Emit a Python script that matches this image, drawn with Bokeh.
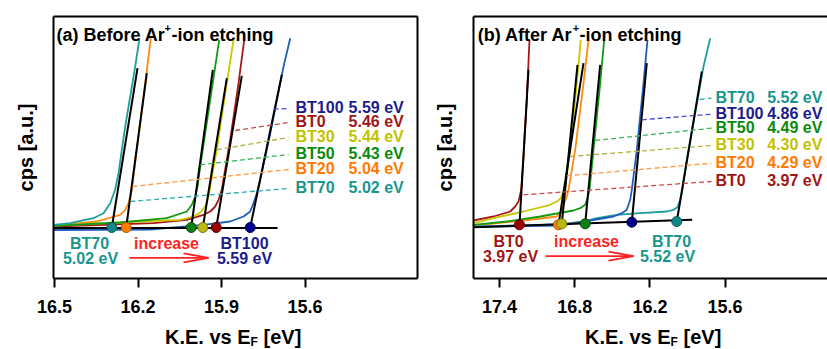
import math
from bokeh.plotting import figure
from bokeh.layouts import row, column
from bokeh.models import Range1d, FixedTicker, PrintfTickFormatter, LinearAxis, Label, Div
from bokeh.embed import file_html
from bokeh.resources import INLINE

FONT = "Liberation Sans"

# Sample order used by every per-sample list below
samples = ["BT0", "BT20", "BT30", "BT50", "BT70", "BT100"]

line_colors = ["#a81818", "#ff8a10", "#c8c800", "#139a13", "#1f9e9e", "#1f5fb8"]
dot_colors = ["#9a0000", "#ff8000", "#b8b818", "#0f7f0f", "#138888", "#00008a"]
dot_edges = ["#5a0000", "#b05000", "#7a7a00", "#064a06", "#0a5555", "#000050"]
dash_colors = ["#cc4c4c", "#ff9a40", "#b0b048", "#38b85a", "#2fa8a8", "#4a4ac4"]
text_colors = ["#a01515", "#ff7a00", "#c2c200", "#0b8a0b", "#17968e", "#1c1c8c"]

# ---------------- (a) before Ar+ etching ----------------
a_ticks = [16.5, 16.2, 15.9, 15.6]
a_wf = [5.46, 5.04, 5.44, 5.43, 5.02, 5.59]

a_bt0_ke = [16.5036, 16.1443, 16.0247, 15.9647, 15.9406, 15.9226, 15.9108, 15.8989, 15.8687, 15.8389, 15.8184]
a_bt0_cps = [52.0, 55.3, 58.7, 63.7, 67.0, 72.0, 78.7, 89.0, 139.0, 195.3, 238.7]
a_bt20_ke = [16.5036, 16.3480, 16.2640, 16.2460, 16.2341, 16.2223, 16.2162, 16.2043, 16.1741, 16.1540]
a_bt20_cps = [52.7, 57.0, 63.7, 68.7, 75.3, 88.7, 102.0, 129.0, 195.3, 240.3]
a_bt30_ke = [16.5036, 16.1551, 16.0484, 16.0006, 15.9765, 15.9586, 15.9467, 15.9406, 15.9169, 15.8810, 15.8569]
a_bt30_cps = [53.0, 57.5, 58.7, 62.0, 66.0, 72.0, 82.0, 92.0, 129.0, 195.3, 238.7]
a_bt50_ke = [16.5036, 16.2640, 16.0965, 16.0247, 16.0067, 15.9945, 15.9862, 15.9765, 15.9406, 15.9083]
a_bt50_cps = [52.7, 56.0, 60.3, 67.0, 73.7, 82.0, 92.0, 112.0, 178.7, 238.7]
a_bt70_ke = [16.5036, 16.4436, 16.3599, 16.3240, 16.2999, 16.2819, 16.2701, 16.2460, 16.2101, 16.1946]
a_bt70_cps = [53.7, 55.3, 60.3, 65.3, 75.3, 89.0, 105.3, 152.0, 212.0, 240.3]
a_bt100_ke = [16.5036, 16.1551, 15.9647, 15.8687, 15.8210, 15.7969, 15.7850, 15.7732, 15.7610,
              15.7250, 15.6772, 15.6532]
a_bt100_cps = [48.5, 49.0, 53.7, 57.0, 62.0, 67.0, 75.3, 85.3, 98.7, 145.3, 212.0, 240.3]

# linear fits of the cutoff edge: baseline crossing and upper end
a_cut_ke = [15.9190, 16.2424, 15.9672, 16.0089, 16.2941, 15.7969]
a_cut_cps = [51.0, 51.0, 51.0, 51.0, 51.0, 51.0]
a_fit_top_ke = [15.8271, 16.1684, 15.8810, 15.9313, 16.2018, 15.6834]
a_fit_top_cps = [202.7, 205.3, 200.3, 208.7, 210.3, 203.7]
a_base_ke = [16.5036, 15.6988]
a_base_cps = [50.5, 50.5]

# points on each spectrum where the labelling leader starts
a_lead_ke = [15.8508, 16.2198, 15.9169, 15.9765, 16.2280, 15.7132]
a_lead_cps = [148.0, 92.0, 128.7, 113.7, 77.0, 169.3]

# ---------------- (b) after Ar+ etching ----------------
b_ticks = [17.4, 16.8, 16.2, 15.6]
b_wf = [3.97, 4.29, 4.30, 4.49, 5.52, 4.86]

b_bt0_ke = [17.6074, 17.4479, 17.3146, 17.2747, 17.2484, 17.2269, 17.2085, 17.1822, 17.1606]
b_bt0_cps = [58.0, 62.0, 67.0, 72.0, 77.0, 88.7, 122.0, 178.7, 238.7]
b_bt20_ke = [17.6074, 17.2085, 16.9428, 16.9109, 16.8894, 16.8630, 16.8495, 16.7960, 16.7298, 16.6899]
b_bt20_cps = [53.0, 58.0, 62.0, 67.0, 73.7, 82.0, 88.7, 128.7, 195.3, 238.7]
b_bt30_ke = [17.6074, 17.4479, 17.2085, 16.9955, 16.9428, 16.9109, 16.8758, 16.8359, 16.7833, 16.7513]
b_bt30_cps = [55.3, 60.3, 67.0, 73.7, 77.0, 80.3, 92.0, 128.7, 195.3, 238.7]
b_bt50_ke = [17.6074, 17.3418, 17.0753, 16.8096, 16.7561, 16.7162, 16.6979, 16.6819, 16.6500,
             16.5966, 16.5646]
b_bt50_cps = [53.7, 57.0, 62.0, 68.0, 70.3, 73.7, 80.3, 88.7, 128.7, 195.3, 238.7]
b_bt70_ke = [17.6074, 16.9133, 16.7298, 16.6237, 16.4641, 16.2774, 16.0652, 16.0117, 15.9798,
             15.9582, 15.9455, 15.9056, 15.8386, 15.7723, 15.7189]
b_bt70_cps = [52.0, 54.0, 57.0, 60.3, 63.7, 65.3, 67.0, 68.7, 71.3, 78.7, 85.3, 118.7, 165.3,
              212.0, 240.3]
b_bt100_ke = [17.6074, 16.9133, 16.6763, 16.4904, 16.4242, 16.3843, 16.3572, 16.3444, 16.3045,
              16.2511, 16.2192]
b_bt100_cps = [51.5, 53.0, 58.0, 62.0, 65.3, 68.7, 78.7, 88.7, 128.7, 195.3, 238.7]

b_cut_ke = [17.2404, 16.9293, 16.9029, 16.7162, 15.9854, 16.3444]
b_cut_cps = [53.7, 53.7, 54.7, 54.7, 57.0, 56.3]
b_fit_top_ke = [17.1686, 16.7298, 16.7777, 16.5966, 15.7859, 16.2248]
b_fit_top_cps = [208.7, 215.3, 213.7, 213.7, 207.0, 215.3]
b_base_ke = [17.6074, 15.8625]
b_base_cps = [51.3, 58.7]

b_lead_ke = [17.2085, 16.8630, 16.8359, 16.6364, 15.8019, 16.2646]
b_lead_cps = [83.7, 102.7, 122.0, 138.0, 179.0, 158.7]

PLOT_H = 320      # figure height; the x-axis title sits in a strip below it
TITLE_H = 29


def add_text(p, x, y, text, color="black", size="16px", align="left",
             baseline="middle", angle=0.0):
    p.add_layout(Label(x=x, y=y, text=text, text_color=color, text_font=FONT,
                       text_font_style="bold", text_font_size=size,
                       text_align=align, text_baseline=baseline, angle=angle))


def border_axis(p, side):
    ax = LinearAxis(ticker=FixedTicker(ticks=[]), axis_line_width=2,
                    axis_line_color="black", major_tick_out=0, major_tick_in=0,
                    minor_tick_out=0, minor_tick_in=0, major_label_standoff=0,
                    major_label_text_font_size="0px")
    p.add_layout(ax, side)


def make_panel(width, x_start, x_end, ticks, spectra, cut_ke, cut_cps, top_ke, top_cps,
               lead_ke, lead_cps, wf, base_ke, base_cps, lay, right_border):
    p = figure(width=width, height=PLOT_H, x_range=Range1d(x_start, x_end),
               y_range=Range1d(0, 262), output_backend="svg", toolbar_location=None,
               min_border_left=53, min_border_right=lay["border_right"],
               min_border_top=16, min_border_bottom=PLOT_H - 278)
    p.outline_line_color = None
    p.grid.visible = False
    p.background_fill_color = "white"
    p.border_fill_color = "white"

    xa = p.xaxis[0]
    xa.ticker = FixedTicker(ticks=ticks)
    xa.formatter = PrintfTickFormatter(format="%.1f")
    xa.axis_line_width = 2
    xa.major_tick_line_width = 2
    xa.major_tick_out = 9
    xa.major_tick_in = 0
    xa.minor_tick_out = 0
    xa.minor_tick_in = 0
    xa.major_label_standoff = 12
    xa.major_label_text_font = FONT
    xa.major_label_text_font_style = "bold"
    xa.major_label_text_font_size = "18px"
    xa.major_label_text_color = "black"

    ya = p.yaxis[0]
    ya.ticker = FixedTicker(ticks=[])
    ya.axis_line_width = 2
    ya.major_tick_out = 0
    ya.major_tick_in = 0
    ya.minor_tick_out = 0
    ya.minor_tick_in = 0
    ya.major_label_standoff = 0
    ya.major_label_text_font_size = "0px"
    ya.axis_label = "cps [a.u.]"
    ya.axis_label_text_font = FONT
    ya.axis_label_text_font_style = "bold"
    ya.axis_label_text_font_size = "20px"
    ya.axis_label_text_color = "black"
    ya.axis_label_standoff = lay["ylabel_standoff"]

    border_axis(p, "above")
    if right_border:
        border_axis(p, "right")

    px = abs(x_end - x_start) / (width - 53 - lay["border_right"])  # eV per pixel

    # spectra
    for (ke, cps), col in zip(spectra, line_colors):
        p.line(ke, cps, line_color=col, line_width=1.8)

    # baseline and linear fits of the cutoff
    p.line(base_ke, base_cps, line_color="black", line_width=2)
    for i in range(len(samples)):
        p.line([cut_ke[i], top_ke[i]], [cut_cps[i], top_cps[i]],
               line_color="black", line_width=2)

    # work-function list, highest value on top
    order = sorted(range(len(samples)), key=lambda i: -wf[i])
    for rank, i in enumerate(order):
        ly = lay["list_y"][rank]
        p.line([lead_ke[i], lay["lead_end"]], [lead_cps[i], ly - 1],
               line_color=dash_colors[i], line_width=1.3, line_dash="5 3")
        add_text(p, lay["name_x"], ly, samples[i], text_colors[i])
        add_text(p, lay["val_x"], ly, f"{wf[i]:.2f} eV", text_colors[i])

    # cutoff markers
    p.scatter(cut_ke, cut_cps, size=10, fill_color=dot_colors, line_color=dot_edges,
              line_width=1)

    # lowest -> highest work function annotation
    lo = order[-1]
    hi = order[0]
    ny, vy = lay["ann_y"]
    add_text(p, lay["lo_x"][0], ny, samples[lo], text_colors[lo], align="center")
    add_text(p, lay["lo_x"][1], vy, f"{wf[lo]:.2f} eV", text_colors[lo], align="center")
    add_text(p, lay["hi_x"][0], ny, samples[hi], text_colors[hi], align="center")
    add_text(p, lay["hi_x"][1], vy, f"{wf[hi]:.2f} eV", text_colors[hi], align="center")
    add_text(p, lay["inc_x"], ny, "increase", "#ff2222", align="center")
    x0, x1 = lay["arrow"]
    ay = lay["arrow_y"]
    hl = 25 * px
    p.multi_line([[x0, x1], [x1, x1 + hl], [x1, x1 + hl]],
                 [[ay, ay], [ay, ay + 4.5], [ay, ay - 4.5]],
                 line_color="#ff2020", line_width=1.8)

    # panel title
    t1, t2, t3 = lay["title"]
    tx1, tx2, tx3 = lay["title_x"]
    add_text(p, tx1, 243.7, t1, size="18px", baseline="alphabetic")
    add_text(p, tx2, 250.5, t2, size="11px", baseline="alphabetic")
    add_text(p, tx3, 243.7, t3, size="18px", baseline="alphabetic")
    return p


def x_title(width):
    # "K.E. vs E_F [eV]" with a real subscript, set as HTML under the panel
    return Div(text='K.E. vs E<sub style="font-size:12px;vertical-align:-2px;'
                    'line-height:0">F</sub> [eV]',
               width=width, height=TITLE_H, margin=0,
               styles={"font-family": FONT, "font-weight": "bold", "font-size": "20px",
                       "line-height": "20px", "color": "black", "padding-left": "165px",
                       "padding-top": "7px", "box-sizing": "border-box",
                       "background-color": "white", "overflow": "hidden",
                       "white-space": "nowrap"})


spectra_a = [(a_bt0_ke, a_bt0_cps), (a_bt20_ke, a_bt20_cps), (a_bt30_ke, a_bt30_cps),
             (a_bt50_ke, a_bt50_cps), (a_bt70_ke, a_bt70_cps), (a_bt100_ke, a_bt100_cps)]
spectra_b = [(b_bt0_ke, b_bt0_cps), (b_bt20_ke, b_bt20_cps), (b_bt30_ke, b_bt30_cps),
             (b_bt50_ke, b_bt50_cps), (b_bt70_ke, b_bt70_cps), (b_bt100_ke, b_bt100_cps)]

lay_a = dict(border_right=3, list_y=[171, 157, 142, 125, 110, 91], lead_end=15.6593,
             name_x=15.6341, val_x=15.4437, ann_y=(35.5, 20.0),
             lo_x=(16.3743, 16.3707), hi_x=(15.8174, 15.8174), inc_x=16.0976,
             arrow=(16.2305, 15.9467), arrow_y=20.7,
             title=("(a) Before Ar", "+", "-ion etching"),
             title_x=(16.4928, 16.1048, 16.0796), ylabel_standoff=17)
lay_b = dict(border_right=0, list_y=[181.3, 165.3, 151.3, 134, 116.3, 98], lead_end=15.7085,
             name_x=15.6766, val_x=15.2641, ann_y=(37.0, 22.0),
             lo_x=(17.3282, 17.3122), hi_x=(16.0277, 16.0596), inc_x=16.7059,
             arrow=(17.0330, 16.3309), arrow_y=22.3,
             title=("(b) After Ar", "+", "-ion etching"),
             title_x=(17.5731, 16.8152, 16.7617), ylabel_standoff=18)

p1 = make_panel(420, 16.5036, 15.196, a_ticks, spectra_a, a_cut_ke, a_cut_cps,
                a_fit_top_ke, a_fit_top_cps, a_lead_ke, a_lead_cps, a_wf,
                a_base_ke, a_base_cps, lay_a, True)
p2 = make_panel(407, 17.6074, 14.783, b_ticks, spectra_b, b_cut_ke, b_cut_cps,
                b_fit_top_ke, b_fit_top_cps, b_lead_ke, b_lead_cps, b_wf,
                b_base_ke, b_base_cps, lay_b, False)

layout = row(column(p1, x_title(420), spacing=0), column(p2, x_title(407), spacing=0),
             spacing=0)
open("out.html", "w").write(file_html(layout, INLINE))
